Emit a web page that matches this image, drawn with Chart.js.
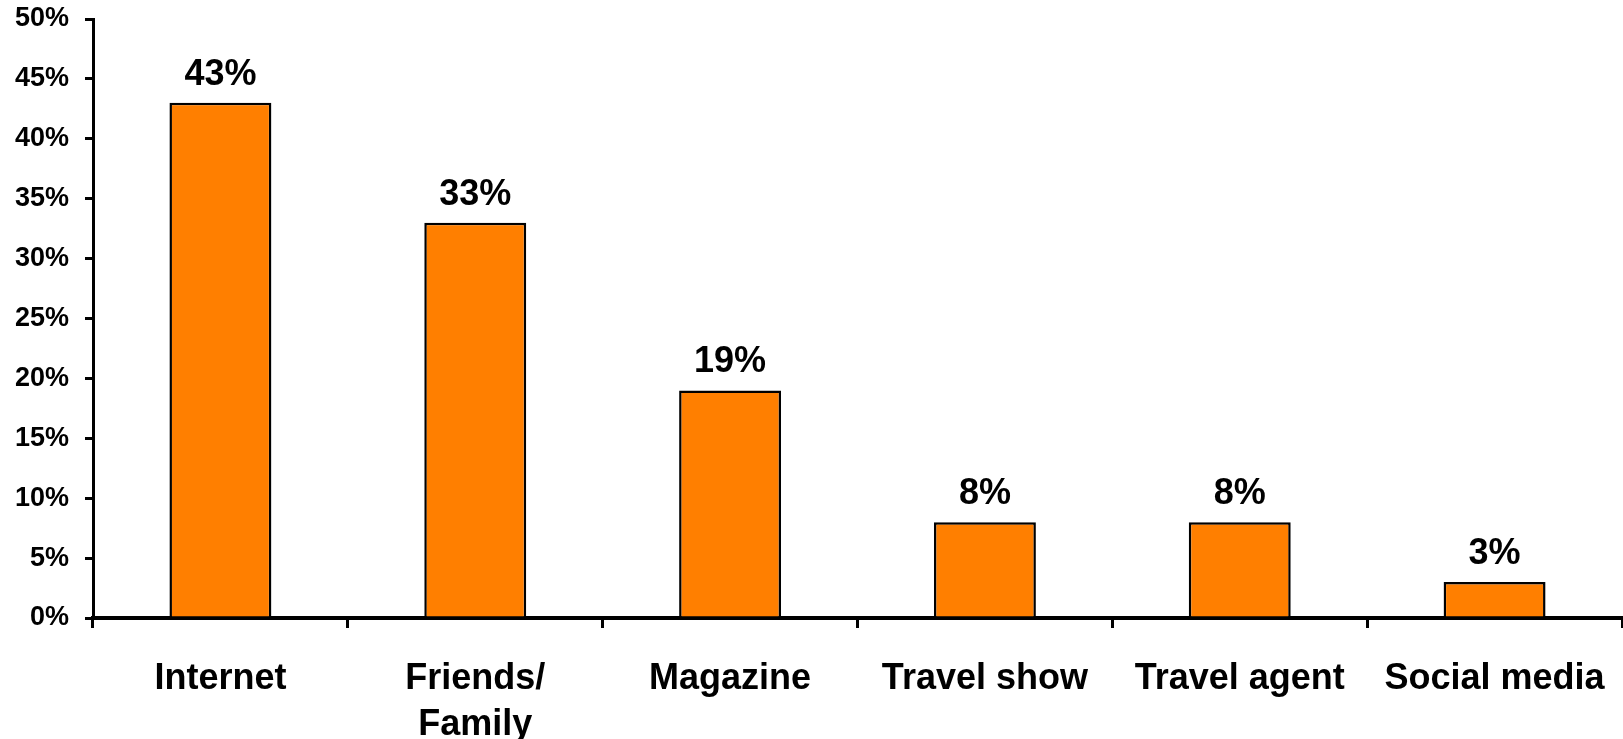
<!DOCTYPE html>
<html>
<head>
<meta charset="utf-8">
<script src="https://cdn.jsdelivr.net/npm/chart.js@4/dist/chart.umd.min.js"></script>
<style>
  html, body { margin: 0; padding: 0; background: #fff; }
  canvas { display: block; }
</style>
</head>
<body>
<canvas id="sourcesChart" width="1623" height="739"></canvas>
<script>
// Where people get their travel information
const categories = ['Internet', ['Friends/', 'Family'], 'Magazine', 'Travel show', 'Travel agent', 'Social media'];
const shares = [43, 33, 19, 8, 8, 3];
const yTicks = [0, 5, 10, 15, 20, 25, 30, 35, 40, 45, 50];

const FONT = 'Liberation Sans, Arial, Helvetica, sans-serif';

// Percentage labels above each bar
const barLabels = {
    id: 'barLabels',
    afterDatasetsDraw(chart) {
        const ctx = chart.ctx;
        const meta = chart.getDatasetMeta(0);
        ctx.save();
        ctx.font = 'bold 36px ' + FONT;
        ctx.fillStyle = '#000';
        ctx.textAlign = 'center';
        ctx.textBaseline = 'alphabetic';
        meta.data.forEach(function(bar, i) {
            ctx.fillText(shares[i] + '%', bar.x, bar.y - 18);
        });
        ctx.restore();
    }
};

new Chart(document.getElementById('sourcesChart'), {
    type: 'bar',
    data: {
        labels: categories,
        datasets: [{
            data: shares,
            backgroundColor: '#ff7f00',
            borderColor: '#000',
            borderWidth: 2.5,
            borderSkipped: 'bottom',
            categoryPercentage: 1,
            barPercentage: 0.4
        }]
    },
    options: {
        responsive: false,
        devicePixelRatio: 1,
        animation: false,
        layout: { padding: { top: 19, right: 1, left: 0, bottom: 0 } },
        plugins: {
            legend: { display: false },
            tooltip: { enabled: false }
        },
        scales: {
            x: {
                grid: {
                    offset: true,
                    drawOnChartArea: false,
                    drawTicks: true,
                    tickLength: 10,
                    color: '#000',
                    lineWidth: 3
                },
                border: { display: true, color: '#000', width: 4 },
                ticks: {
                    color: '#000',
                    padding: 28,
                    maxRotation: 0,
                    autoSkip: false,
                    font: { family: FONT, size: 36, weight: 'bold', lineHeight: 1.28 }
                },
                afterFit(scale) {
                    scale.height = 121;
                    scale.paddingLeft = 0;
                    scale.paddingRight = 0;
                }
            },
            y: {
                min: 0,
                max: 50,
                afterBuildTicks(scale) {
                    scale.ticks = yTicks.map(v => ({ value: v }));
                },
                grid: {
                    drawOnChartArea: false,
                    drawTicks: true,
                    tickLength: 8,
                    color: '#000',
                    lineWidth: 3
                },
                border: { display: true, color: '#000', width: 3 },
                ticks: {
                    color: '#000',
                    padding: 16,
                    font: { family: FONT, size: 27, weight: 'bold' },
                    callback: v => v + '%'
                },
                afterFit(scale) {
                    scale.width = 93;
                    scale.paddingTop = 0;
                    scale.paddingBottom = 0;
                }
            }
        }
    },
    plugins: [barLabels]
});
</script>
</body>
</html>
